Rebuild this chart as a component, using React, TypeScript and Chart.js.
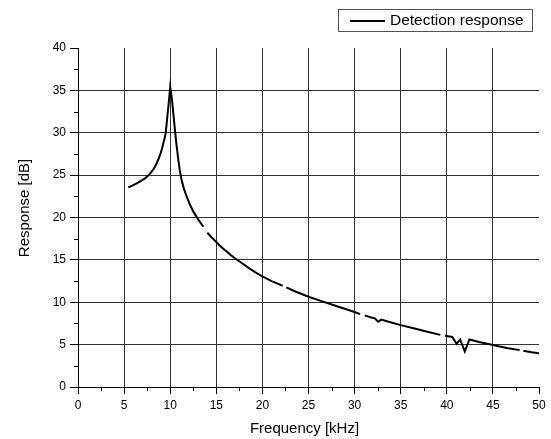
import React, { useEffect, useRef } from "react";
import { Chart, registerables } from "chart.js";

Chart.register(...registerables);

// Frequency in kHz (null response = gap in the measured curve)
const freqKHz = [
  5.45, 5.9, 6.36, 6.8, 7.27, 7.65, 7.99, 8.28, 8.53, 8.76, 8.96, 9.12, 9.25, 9.39, 9.51, 9.69, 9.87, 10.0,
  10.2, 10.41, 10.63, 10.76, 10.88, 11.05, 11.24, 11.5, 11.79, 12.15, 12.51, 13.05, 13.59,
  13.8,
  14.03, 14.45, 15.0, 15.5, 16.0, 16.6, 17.2, 17.8, 18.5, 19.2, 20.0, 21.0, 22.2,
  22.4,
  22.6, 23.5, 24.2, 25.0, 26.5, 28.0, 29.0, 30.0, 30.6,
  30.85,
  31.1, 31.8, 32.2, 32.55, 32.9, 33.5, 35.0, 36.5, 38.0, 39.3,
  39.55,
  39.8, 40.6, 41.05, 41.45, 41.95, 42.45, 43.5, 45.0, 46.5, 47.9,
  48.1,
  48.3, 49.2, 50.0,
];

// Response in dB
const responseDb = [
  23.55, 23.75, 24.03, 24.3, 24.62, 24.98, 25.4, 25.85, 26.4, 26.98, 27.57, 28.15, 28.75, 29.35, 29.93, 31.9, 33.86, 35.4,
  33.86, 31.5, 29.1, 27.9, 26.8, 25.5, 24.4, 23.35, 22.45, 21.5, 20.69, 19.75, 18.91,
  null,
  18.2, 17.7, 17.1, 16.55, 16.1, 15.55, 15.05, 14.6, 14.05, 13.55, 13.05, 12.5, 11.95,
  null,
  11.75, 11.3, 11.0, 10.65, 10.1, 9.55, 9.2, 8.85, 8.6,
  null,
  8.45, 8.2, 8.1, 7.7, 7.95, 7.75, 7.3, 6.9, 6.5, 6.15,
  null,
  6.05, 5.9, 5.1, 5.6, 4.2, 5.6, 5.3, 4.95, 4.6, 4.35,
  null,
  4.28, 4.1, 3.97,
];

const seriesLabel = "Detection response";
const xTitle = "Frequency [kHz]";
const yTitle = "Response [dB]";
const xRange = [0, 50];
const yRange = [0, 40];
const majorStep = 5;
const minorStep = 2.5;

const FONT = "'Liberation Sans', Arial, Helvetica, sans-serif";

const decorPlugin = {
  id: "decor",
  afterDraw(chart: any) {
    const ctx = chart.ctx;
    const area = chart.chartArea;
    const xs = chart.scales.x;
    const ys = chart.scales.y;
    ctx.save();
    // minor ticks
    ctx.strokeStyle = "#000";
    ctx.lineWidth = 1;
    ctx.beginPath();
    for (let v = xRange[0] + minorStep; v < xRange[1]; v += majorStep) {
      const px = Math.round(xs.getPixelForValue(v)) + 0.5;
      ctx.moveTo(px, Math.round(area.bottom));
      ctx.lineTo(px, Math.round(area.bottom) + 4);
    }
    for (let v = yRange[0] + minorStep; v < yRange[1]; v += majorStep) {
      const py = Math.round(ys.getPixelForValue(v)) + 0.5;
      ctx.moveTo(Math.round(area.left) - 4, py);
      ctx.lineTo(Math.round(area.left), py);
    }
    ctx.stroke();

    // axis titles
    ctx.fillStyle = "#000";
    ctx.font = `15px ${FONT}`;
    ctx.textAlign = "center";
    ctx.textBaseline = "middle";
    ctx.fillText(xTitle, 304.5, 429);
    ctx.save();
    ctx.translate(25, 208);
    ctx.rotate(-Math.PI / 2);
    ctx.fillText(yTitle, 0, 0);
    ctx.restore();

    // legend box
    const label = chart.data.datasets[0].label;
    ctx.strokeStyle = "#555";
    ctx.lineWidth = 1;
    ctx.strokeRect(338.5, 9.5, 194, 22);
    ctx.strokeStyle = "#000";
    ctx.lineWidth = 2;
    ctx.beginPath();
    ctx.moveTo(350, 21);
    ctx.lineTo(385, 21);
    ctx.stroke();
    ctx.font = `15.5px ${FONT}`;
    ctx.textAlign = "left";
    ctx.fillText(label, 390, 21);
    ctx.restore();
  },
};

export default function App() {
  const canvasRef = useRef<HTMLCanvasElement | null>(null);

  useEffect(() => {
    if (!canvasRef.current) return;
    const points = freqKHz.map((f, i) => ({ x: f, y: responseDb[i] }));
    const gridColor = (max: number) => (ctx: any) => {
      const v = ctx.tick ? ctx.tick.value : 0;
      if (v === 0 || v === max) return "rgba(0,0,0,0)";
      return "#333";
    };
    const chart = new Chart(canvasRef.current, {
      type: "line",
      data: {
        datasets: [
          {
            label: seriesLabel,
            data: points as any,
            borderColor: "#000",
            borderWidth: 2,
            pointRadius: 0,
            tension: 0,
            spanGaps: false,
            fill: false,
          },
        ],
      },
      options: {
        responsive: false,
        animation: false,
        devicePixelRatio: 1,
        layout: { padding: { left: 0, right: 12, top: 48, bottom: 0 } },
        plugins: {
          legend: { display: false },
          tooltip: { enabled: false },
        },
        scales: {
          x: {
            type: "linear",
            min: xRange[0],
            max: xRange[1],
            afterFit: (s: any) => {
              s.height = 52;
            },
            border: { display: true, color: "#000", width: 1 },
            grid: {
              color: gridColor(xRange[1]) as any,
              lineWidth: 1,
              drawTicks: true,
              tickLength: 7,
              tickColor: "#000",
            },
            ticks: {
              stepSize: majorStep,
              autoSkip: false,
              maxRotation: 0,
              padding: 4,
              color: "#000",
              font: { family: FONT, size: 12 },
            },
            title: { display: false },
          },
          y: {
            type: "linear",
            min: yRange[0],
            max: yRange[1],
            afterFit: (s: any) => {
              s.width = 78;
            },
            border: { display: true, color: "#000", width: 1 },
            grid: {
              color: gridColor(yRange[1]) as any,
              lineWidth: 1,
              drawTicks: true,
              tickLength: 8,
              tickColor: "#000",
            },
            ticks: {
              stepSize: majorStep,
              autoSkip: false,
              padding: 4,
              color: "#000",
              font: { family: FONT, size: 12 },
            },
            title: { display: false },
          },
        },
      },
      plugins: [decorPlugin],
    });
    return () => chart.destroy();
  }, []);

  return (
    <div style={{ position: "absolute", left: 0, top: 0, width: 551, height: 439, background: "#fff" }}>
      <canvas ref={canvasRef} width={551} height={439} style={{ display: "block" }} />
    </div>
  );
}
